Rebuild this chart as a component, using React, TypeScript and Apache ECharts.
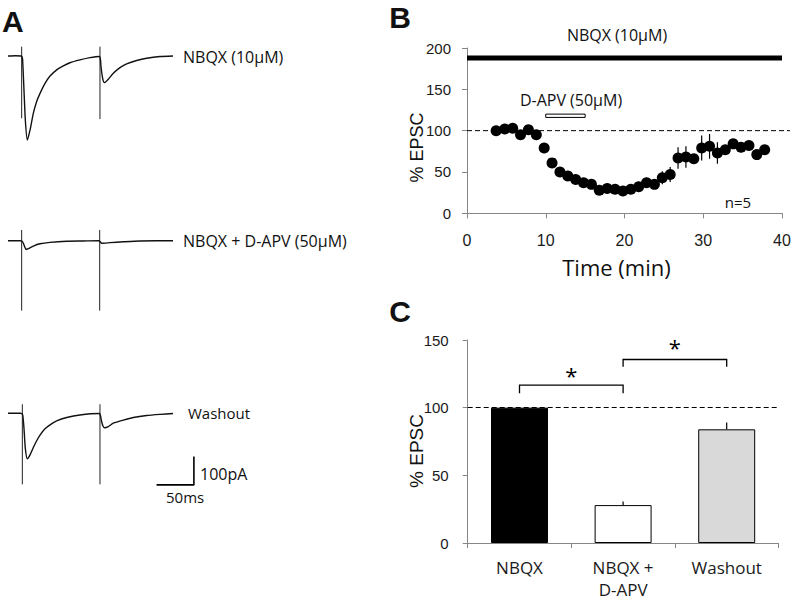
import React, { useEffect, useRef } from "react";
import * as echarts from "echarts";

// ---------- Panel A: example traces (time in ms, current in pA) ----------
const trace1: number[][] = [
  [0, 0], [10, 1], [17.5, 0], [18.8, -3], [19.6, -14], [21.4, -120], [23.2, -226], [25.9, -297],
  [29.5, -262], [33.9, -203], [38.4, -161], [42.9, -132], [49.6, -97], [56.3, -71], [65.2, -49],
  [74.1, -35], [83, -24], [96.4, -14], [109.8, -6], [122.3, -2], [123.8, -12], [124.6, -38],
  [126.8, -79], [129, -94], [134.4, -82], [141.1, -61], [150, -41], [158.9, -28], [172.3, -16],
  [185.7, -8], [203.6, -2], [221, 0],
];
const trace2: number[][] = [
  [0, 0], [16, 0], [18.8, -2], [20.5, -9], [22.5, -22], [24.1, -31], [27.2, -28], [33.9, -19],
  [42.9, -11], [56.3, -6], [78.6, -2], [100.9, -1], [121.9, 0], [123.5, -4], [125.4, -9],
  [136.6, -7], [154.5, -4], [176.8, -1], [221, 0],
];
const trace3: number[][] = [
  [0, 0], [17, 0], [19.6, -5], [21.4, -53], [23.2, -124], [25.9, -161], [29.5, -147], [33.9, -121],
  [38.4, -97], [42.9, -77], [49.6, -55], [56.3, -41], [65.2, -27], [78.6, -15], [96.4, -6],
  [122.3, -1], [123.8, -8], [125.4, -29], [127.2, -45], [129, -51], [134.4, -47], [141.1, -35],
  [154.5, -24], [167.9, -15], [185.7, -8], [203.6, -4], [221, -1],
];
// stimulus artifacts: [time, top, bottom]
const artifacts1: number[][] = [[18.3, 33, -220], [123.2, 33, -223]];
const artifacts2: number[][] = [[18.3, 38, -247], [122.8, 38, -247]];
const artifacts3: number[][] = [[19.2, 32, -251], [123.2, 32, -251]];
// scale bar: 50 ms, 100 pA
const scaleBar: number[][] = [[199, -253], [249, -253], [249, -153]];

// ---------- Panel B: time course ----------
const bTime = [3.7, 4.8, 5.8, 6.8, 7.8, 8.8, 9.8, 10.8, 11.8, 12.8, 13.8, 14.8, 15.8, 16.8, 17.8, 18.8,
  19.8, 20.8, 21.8, 22.8, 23.8, 24.8, 25.8, 26.8, 27.8, 28.8, 29.8, 30.8, 31.8, 32.8, 33.8, 34.8, 35.8, 36.8, 37.8];
const bValue = [100, 102, 103, 95, 101, 95, 79, 61, 50, 45, 41, 37, 35, 28, 30, 29, 27, 29, 32, 37, 35, 43,
  47, 67, 68, 66, 79, 81, 73, 77, 84, 80, 82, 71, 77];
const bErr = [2, 2, 2, 3, 2, 3, 4, 5, 4, 4, 3, 3, 3, 3, 3, 3, 3, 3, 3, 6, 3, 8, 9, 13, 13, 5, 15, 15, 13, 5, 4, 6, 4, 3, 3];
const nbqxBar: number[][] = [[0, 188], [40, 188]];
const apvBar: number[][] = [[10, 15, 116, 120]]; // [start, end, low, high]
const bBaseline: number[][] = [[0, 40, 100]];

// ---------- Panel C: summary bars ----------
const cCategories = ["NBQX", "NBQX +\nD-APV", "Washout"];
const cValues = [100, 28, 84];
const cErr = [0, 2.7, 5];
const cColors = ["#000000", "#ffffff", "#d9d9d9"];
// [leftCat, rightCat, bracketTop, legBottom, starLevel]
const sigPairs: number[][] = [[0, 1, 116.7, 110.6, 124], [1, 2, 135.6, 130.2, 145]];

const NUM_FONT = "Liberation Sans, Arial, sans-serif";
const TXT_FONT = "Open Sans, sans-serif";
const AXIS_GRAY = "#868686";

function hiddenAxes(n: number) {
  const xs: any[] = [];
  const ys: any[] = [];
  for (let i = 0; i < n; i++) {
    xs.push({ type: "value", gridIndex: i, min: 0, max: 260, show: false });
    ys.push({ type: "value", gridIndex: i, min: -300, max: 60, show: false });
  }
  return { xs, ys };
}

function traceSeries(idx: number, data: number[][], arts: number[][]) {
  return [
    {
      type: "line", xAxisIndex: idx, yAxisIndex: idx, data, symbol: "none", smooth: 0.2,
      lineStyle: { color: "#111", width: 1.4 }, silent: true,
    },
    {
      type: "custom", xAxisIndex: idx, yAxisIndex: idx, data: arts, silent: true,
      renderItem: (_p: any, api: any) => {
        const a = api.coord([api.value(0), api.value(1)]);
        const b = api.coord([api.value(0), api.value(2)]);
        return { type: "line", shape: { x1: a[0], y1: a[1], x2: b[0], y2: b[1] }, style: { stroke: "#222", lineWidth: 1 } };
      },
    },
  ];
}

function txt(text: string, x: number, y: number, font: string, align = "left", rotation = 0) {
  return {
    type: "text", x, y, rotation, silent: true,
    style: { text, font, fill: "#111", textAlign: align, textVerticalAlign: "middle", align, verticalAlign: "middle" },
  };
}

export default function App() {
  const ref = useRef<HTMLDivElement>(null);
  useEffect(() => {
    document.body.style.margin = "0";
    const chart = echarts.init(ref.current!, null, { renderer: "svg" });
    const h = hiddenAxes(3);
    const numLabel = { fontFamily: NUM_FONT, fontSize: 15, color: "#1a1a1a" };
    const option: any = {
      animation: false,
      backgroundColor: "#ffffff",
      grid: [
        { left: 8, top: 39, width: 194.1, height: 101.9 },
        { left: 8, top: 223.7, width: 194.1, height: 101.9 },
        { left: 8, top: 396.3, width: 194.1, height: 101.9 },
        { left: 467, top: 48, width: 315, height: 165.3 },
        { left: 467.7, top: 340, width: 310.8, height: 203.3 },
      ],
      xAxis: [
        ...h.xs,
        {
          type: "value", gridIndex: 3, min: 0, max: 40, interval: 10,
          axisLine: { lineStyle: { color: AXIS_GRAY } },
          axisTick: { show: true, length: 5, lineStyle: { color: AXIS_GRAY } },
          axisLabel: { ...numLabel, fontSize: 16, margin: 19 },
          splitLine: { show: false },
        },
        {
          type: "category", gridIndex: 4, data: cCategories,
          axisLine: { lineStyle: { color: AXIS_GRAY } },
          axisTick: { show: true, length: 5, alignWithLabel: false, lineStyle: { color: AXIS_GRAY } },
          axisLabel: { fontFamily: TXT_FONT, fontSize: 17, lineHeight: 22, margin: 13, color: "#1a1a1a", interval: 0 },
        },
      ],
      yAxis: [
        ...h.ys,
        {
          type: "value", gridIndex: 3, min: 0, max: 200, interval: 50,
          axisLine: { show: true, lineStyle: { color: AXIS_GRAY } },
          axisTick: { show: true, length: 5, lineStyle: { color: AXIS_GRAY } },
          axisLabel: { ...numLabel, margin: 16 },
          splitLine: { show: false },
        },
        {
          type: "value", gridIndex: 4, min: 0, max: 150, interval: 50,
          axisLine: { show: true, lineStyle: { color: AXIS_GRAY } },
          axisTick: { show: true, length: 5, lineStyle: { color: AXIS_GRAY } },
          axisLabel: { ...numLabel, margin: 19 },
          splitLine: { show: false },
        },
      ],
      series: [
        ...traceSeries(0, trace1, artifacts1),
        ...traceSeries(1, trace2, artifacts2),
        ...traceSeries(2, trace3, artifacts3),
        {
          type: "line", xAxisIndex: 2, yAxisIndex: 2, data: scaleBar, symbol: "none",
          lineStyle: { color: "#000", width: 1.6 }, silent: true,
        },
        // Panel B
        {
          type: "line", xAxisIndex: 3, yAxisIndex: 3, data: nbqxBar, symbol: "none",
          lineStyle: { color: "#000", width: 5 }, silent: true,
        },
        {
          type: "custom", xAxisIndex: 3, yAxisIndex: 3, data: apvBar, silent: true,
          renderItem: (_p: any, api: any) => {
            const a = api.coord([api.value(0), api.value(3)]);
            const b = api.coord([api.value(1), api.value(2)]);
            return {
              type: "rect", shape: { x: a[0], y: a[1], width: b[0] - a[0], height: b[1] - a[1] },
              style: { fill: "#fff", stroke: "#000", lineWidth: 1 },
            };
          },
        },
        {
          type: "custom", xAxisIndex: 3, yAxisIndex: 3, data: bBaseline, silent: true, clip: false,
          renderItem: (_p: any, api: any) => {
            const a = api.coord([api.value(0), api.value(2)]);
            const b = api.coord([api.value(1), api.value(2)]);
            return {
              type: "line", shape: { x1: a[0], y1: a[1], x2: b[0] + 8, y2: b[1] },
              style: { stroke: "#000", lineWidth: 1, lineDash: [5, 3] },
            };
          },
        },
        {
          type: "custom", xAxisIndex: 3, yAxisIndex: 3, silent: true, z: 3,
          data: bTime.map((t, i) => [t, bValue[i], bErr[i]]),
          renderItem: (_p: any, api: any) => {
            const x = api.value(0), y = api.value(1), e = api.value(2);
            const a = api.coord([x, y + e]);
            const b = api.coord([x, y - e]);
            return { type: "line", shape: { x1: a[0], y1: a[1], x2: b[0], y2: b[1] }, style: { stroke: "#000", lineWidth: 1.2 } };
          },
        },
        {
          type: "scatter", xAxisIndex: 3, yAxisIndex: 3, symbolSize: 11, z: 5, silent: true,
          itemStyle: { color: "#000", opacity: 1 },
          data: bTime.map((t, i) => [t, bValue[i]]),
        },
        // Panel C
        {
          type: "bar", xAxisIndex: 4, yAxisIndex: 4, barWidth: "55%", silent: true,
          itemStyle: { borderColor: "#000", borderWidth: 1 },
          data: cValues.map((v, i) => ({ value: v, itemStyle: { color: cColors[i] } })),
          markLine: {
            silent: true, symbol: ["none", "none"], label: { show: false },
            lineStyle: { color: "#000", width: 1, type: [5, 3] },
            data: [{ yAxis: 100 }],
          },
        },
        {
          type: "custom", xAxisIndex: 4, yAxisIndex: 4, silent: true, z: 4,
          data: cValues.map((v, i) => [i, v, cErr[i]]),
          renderItem: (_p: any, api: any) => {
            const i = api.value(0), v = api.value(1), e = api.value(2);
            const a = api.coord([i, v]);
            const b = api.coord([i, v + e]);
            return { type: "line", shape: { x1: a[0], y1: a[1], x2: b[0], y2: b[1] }, style: { stroke: "#000", lineWidth: 1.2 } };
          },
        },
        {
          type: "custom", xAxisIndex: 4, yAxisIndex: 4, silent: true, z: 4, clip: false,
          data: sigPairs,
          renderItem: (_p: any, api: any) => {
            const l = api.value(0), r = api.value(1), top = api.value(2), leg = api.value(3), star = api.value(4);
            const p1 = api.coord([l, leg]);
            const p2 = api.coord([l, top]);
            const p3 = api.coord([r, top]);
            const p4 = api.coord([r, leg]);
            const s = api.coord([l, star]);
            return {
              type: "group",
              children: [
                { type: "polyline", shape: { points: [p1, p2, p3, p4] }, style: { stroke: "#000", lineWidth: 1.3, fill: "none" } },
                {
                  type: "text",
                  style: {
                    text: "*", x: (p2[0] + p3[0]) / 2, y: s[1], font: "22px " + TXT_FONT, fill: "#000",
                    textAlign: "center", textVerticalAlign: "middle", align: "center", verticalAlign: "middle",
                  },
                },
              ],
            };
          },
        },
      ],
      graphic: [
        txt("A", 2, 21, "bold 30px " + NUM_FONT),
        txt("B", 400, 17, "bold 30px " + NUM_FONT, "center"),
        txt("C", 400, 311.5, "bold 30px " + NUM_FONT, "center"),
        txt("NBQX (10µM)", 183, 57, "16px " + TXT_FONT),
        txt("NBQX + D-APV (50µM)", 183, 241, "16px " + TXT_FONT),
        txt("Washout", 188, 413, "15px " + TXT_FONT),
        txt("100pA", 200, 474, "16px " + TXT_FONT),
        txt("50ms", 166, 497, "15px " + TXT_FONT),
        txt("NBQX (10µM)", 617, 35, "16px " + TXT_FONT, "center"),
        txt("D-APV (50µM)", 571, 100, "16px " + TXT_FONT, "center"),
        txt("n=5", 738, 202, "15px " + TXT_FONT, "center"),
        txt("% EPSC", 416.5, 147.5, "18px " + NUM_FONT, "center", Math.PI / 2),
        txt("Time (min)", 616.5, 267, "22px " + TXT_FONT, "center"),
        txt("% EPSC", 416.7, 451, "19px " + NUM_FONT, "center", Math.PI / 2),
      ],
    };
    chart.setOption(option);
    return () => chart.dispose();
  }, []);
  return <div ref={ref} style={{ width: 797, height: 600, background: "#fff" }} />;
}
